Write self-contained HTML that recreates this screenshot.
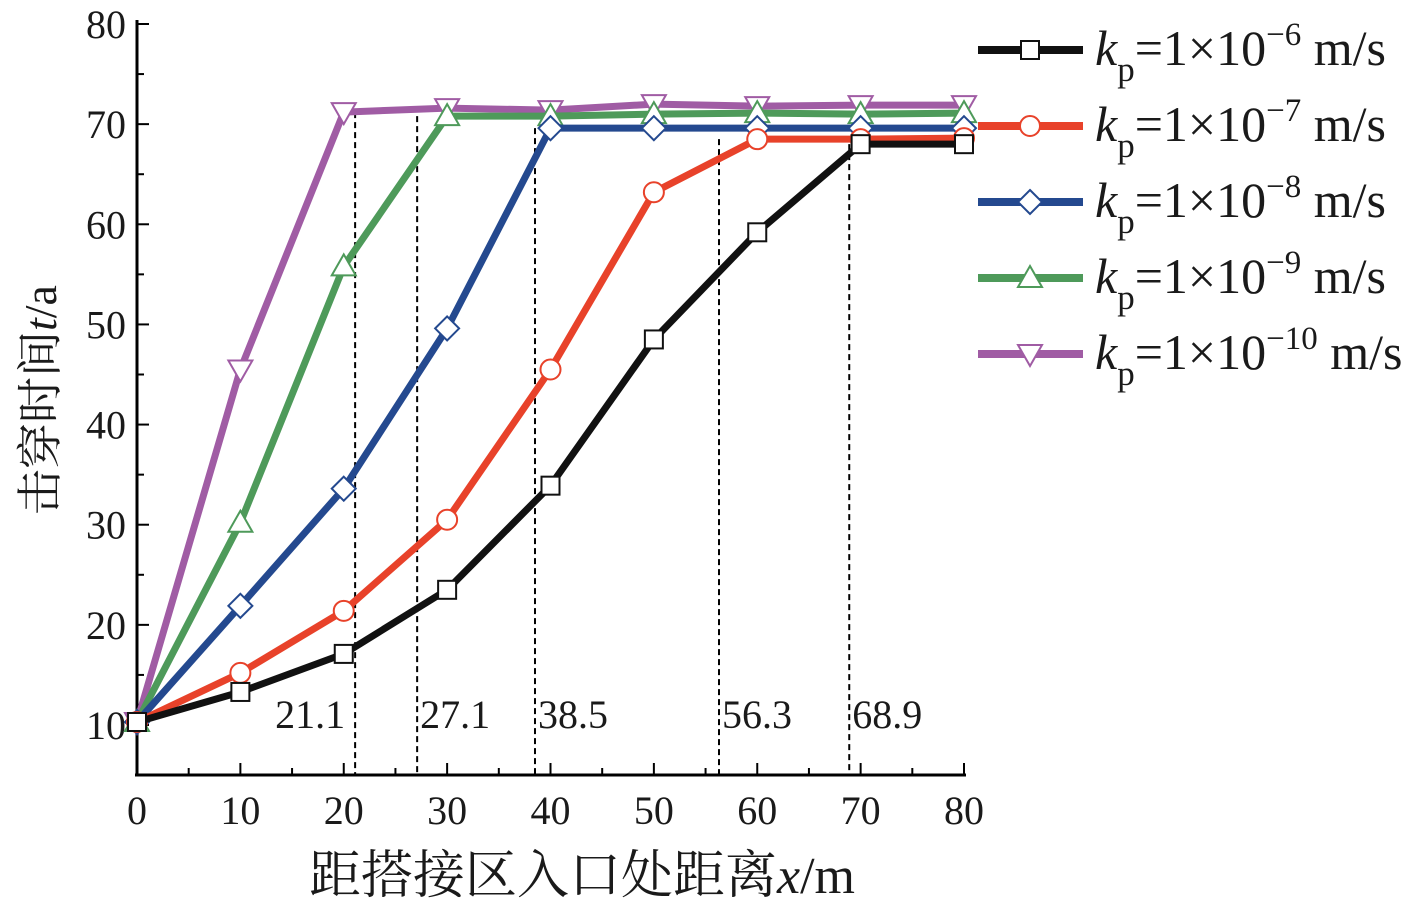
<!DOCTYPE html>
<html><head><meta charset="utf-8"><style>
body{margin:0;background:#fff}
svg text{font-family:"Liberation Serif","Noto Serif CJK SC",serif;fill:#1a1a1a}
</style></head><body>
<svg id="c" width="1426" height="908" xmlns="http://www.w3.org/2000/svg"></svg>
<script>
const xs=[0,10,20,30,40,50,60,70,80];
const s6=[10.3,13.3,17.1,23.5,33.9,48.5,59.2,68.0,68.0];
const s7=[10.3,15.2,21.4,30.5,45.5,63.2,68.5,68.5,68.6];
const s8=[10.3,21.9,33.6,49.6,69.6,69.6,69.6,69.6,69.6];
const s9=[10.3,30.2,55.8,70.8,70.8,71.0,71.1,71.0,71.1];
const s10=[10.3,45.5,71.2,71.6,71.4,72.0,71.8,71.9,71.9];
const marks=[21.1,27.1,38.5,56.3,68.9];
const markTop=[71.2,70.8,69.6,68.5,68.0];
const xTicks=[0,10,20,30,40,50,60,70,80];
const yTicks=[10,20,30,40,50,60,70,80];
const exps=["-6","-7","-8","-9","-10"];
const NS="http://www.w3.org/2000/svg",svg=document.getElementById('c');
const X=v=>137+v*(964-137)/80, Y=v=>24+(80-v)*(725-24)/70;
function el(t,a,p){const e=document.createElementNS(NS,t);for(const k in a)e.setAttribute(k,a[k]);(p||svg).appendChild(e);return e;}
let e=el('line',{x1:137,y1:20,x2:137,y2:775,stroke:'#000','stroke-width':3});

e=el('line',{x1:135,y1:775,x2:966,y2:775,stroke:'#000','stroke-width':3});

for(let v=0;v<=80;v+=5){const big=v%10==0;el('line',{x1:X(v),y1:775,x2:X(v),y2:775-(big?12:7),stroke:'#000','stroke-width':2});}
for(let v=5;v<=80;v+=5){const big=v%10==0;el('line',{x1:137,y1:Y(v),x2:137+(big?12:7),y2:Y(v),stroke:'#000','stroke-width':2});}
xTicks.forEach(v=>{const t=el('text',{x:X(v),y:824,'font-size':40,'text-anchor':'middle'});t.textContent=v;
});
yTicks.forEach(v=>{const t=el('text',{x:126,y:Y(v)+14,'font-size':40,'text-anchor':'end'});t.textContent=v;
});
let t=el('text',{x:582,y:893,'font-size':52,'text-anchor':'middle'});
t.innerHTML='距搭接区入口处距离<tspan font-style="italic">x</tspan>/m';

t=el('text',{x:0,y:0,'font-size':46,'text-anchor':'middle',transform:'translate(56,400) rotate(-90)'});
t.innerHTML='击穿时间<tspan font-style="italic">t</tspan>/a';

marks.forEach((m,i)=>{const l=el('line',{x1:X(m),y1:Y(markTop[i]),x2:X(m),y2:775,stroke:'#000','stroke-width':2,'stroke-dasharray':'6,4'});

const tt=el('text',{x:i==0?X(m)-10:X(m)+3,y:728,'font-size':40,'text-anchor':i==0?'end':'start'});tt.textContent=m.toFixed(1);
});
const series=[[s6,'#111','sq'],[s7,'#e8422a','ci'],[s8,'#24498f','di'],[s9,'#4e9a5a','tu'],[s10,'#a05ca4','td']];
function marker(type,x,y,c,g){const w='#fff';let m;
if(type=='sq')m=el('rect',{x:x-9,y:y-9,width:18,height:18,fill:w,stroke:c,'stroke-width':2},g);
if(type=='ci')m=el('circle',{cx:x,cy:y,r:10,fill:w,stroke:c,'stroke-width':2},g);
if(type=='di')m=el('polygon',{points:`${x},${y-12} ${x+12},${y} ${x},${y+12} ${x-12},${y}`,fill:w,stroke:c,'stroke-width':2},g);
if(type=='tu')m=el('polygon',{points:`${x},${y-12} ${x+12},${y+9} ${x-12},${y+9}`,fill:w,stroke:c,'stroke-width':2},g);
if(type=='td')m=el('polygon',{points:`${x},${y+12} ${x+12},${y-9} ${x-12},${y-9}`,fill:w,stroke:c,'stroke-width':2},g);
}
series.slice().reverse().forEach(([d,c,m],ri)=>{const i=4-ri;const g=el('g',{});

el('polyline',{points:d.map((v,j)=>X(xs[j])+','+Y(v)).join(' '),fill:'none',stroke:c,'stroke-width':7,'stroke-linejoin':'round'},g);
d.forEach((v,j)=>marker(m,X(xs[j]),Y(v),c,g));});
series.forEach(([d,c,m],i)=>{const y=50+i*76;const g=el('g',{});

el('line',{x1:978,y1:y,x2:1083,y2:y,stroke:c,'stroke-width':8},g);marker(m,1030,y,c,g);
const tt=el('text',{x:1095,y:y+15,'font-size':50},g);
tt.innerHTML=`<tspan font-style="italic">k</tspan><tspan font-size="35" dy="16">p</tspan><tspan dy="-16">=1×10</tspan><tspan font-size="33" dy="-20">−${exps[i].slice(1)}</tspan><tspan dy="20"> m/s</tspan>`;});
</script></body></html>
